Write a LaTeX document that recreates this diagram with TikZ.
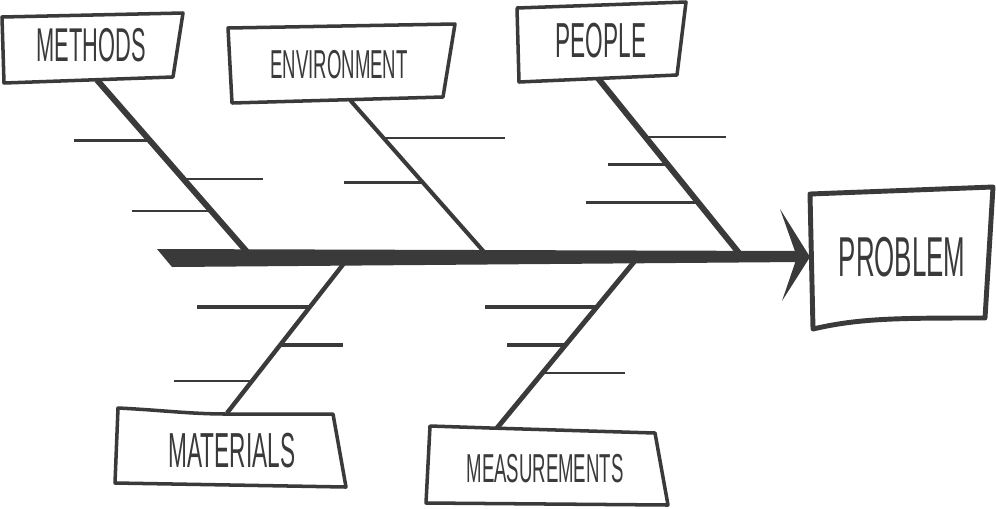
\documentclass[tikz,border=0pt]{standalone}
\usepackage{fontspec}
\newfontfamily\handfont[FakeStretch=0.46]{Liberation Sans}
\usetikzlibrary{calc}
\definecolor{ink}{RGB}{58,58,58}

\begin{document}
\begin{tikzpicture}[
	x=0.02cm, y=-0.02cm,
	card/.style={draw=ink, line width=2pt, line join=round, fill=white},
	label/.style={text=ink, inner sep=0pt},
	bone/.style={draw=ink, line cap=butt},
	rib/.style={draw=ink, line cap=butt},
]
	\useasboundingbox (0, 0) rectangle (996, 508);

	% Points where the bones leave the cards and meet the spine
	\coordinate (methods-foot) at (97, 80);
	\coordinate (environment-foot) at (350, 100);
	\coordinate (people-foot) at (597, 77);
	\coordinate (materials-foot) at (227, 413);
	\coordinate (measurements-foot) at (497, 428);
	\coordinate (methods-root) at (248, 253);
	\coordinate (environment-root) at (485, 253);
	\coordinate (people-root) at (739, 253);
	\coordinate (materials-root) at (345, 262);
	\coordinate (measurements-root) at (634, 262);

	% Bones
	\draw[bone, line width=3.4pt] (methods-foot) -- (methods-root);
	\draw[bone, line width=2.3pt] (environment-foot) -- (environment-root);
	\draw[bone, line width=3.4pt] (people-foot) -- (people-root);
	\draw[bone, line width=2.5pt] (materials-root) -- (materials-foot);
	\draw[bone, line width=2.8pt] (measurements-root) -- (measurements-foot);

	% Ribs: y / from / to / width
	\foreach \y/\xa/\xb/\w in {140/74/149/1.7, 179/182/263/1.1, 211/132/210/1.1,
			138/383/505/0.85, 182/344/422/1.7,
			137/646/726/1.0, 164/608/668/1.7, 202/586/697/1.7,
			307/197/310/2.3, 345/280/343/2.3, 381/174/252/1.1,
			307/485/597/2.3, 345/507/566/2.3, 373/543/625/1.1} {
		\draw[rib, line width=\w pt] (\xa, \y) -- (\xb, \y);
	}

	% Spine with its arrow head
	\coordinate (tail) at (157, 249);
	\coordinate (head) at (810, 257);
	\fill[ink] (tail) -- (800, 251) -- (800, 262) -- (172, 267) -- cycle;
	\fill[ink] (780, 209) -- (head) -- (782, 301) -- (797, 257) -- cycle;

	% Cards
	\draw[card] (2, 17) -- (183, 13) -- (173, 77) -- (4, 83) -- cycle;
	\draw[card] (228, 28) -- (455, 24) -- (443, 97) -- (232, 103) -- cycle;
	\draw[card] (517, 8) -- (686, 2) -- (677, 75) -- (519, 82) -- cycle;
	\draw[card] (118, 408) .. controls (160, 410) and (190, 414) .. (227, 414)
		-- (333, 414) -- (346, 487) -- (115, 483) -- cycle;
	\draw[card] (430, 426) -- (490, 428) -- (655, 433) -- (668, 505) -- (426, 503) -- cycle;
	\draw[card, line width=2.8pt] (810, 194) -- (993, 187) -- (985, 318)
		.. controls (900, 318) and (860, 318) .. (813, 329) -- cycle;

	% Labels
	\node[label, font={\handfont\fontsize{27}{27}\selectfont}] (methods) at (91, 45) {METHODS};
	\node[label, font={\handfont\fontsize{23}{23}\selectfont}] (environment) at (339, 65) {ENVIRONMENT};
	\node[label, font={\handfont\fontsize{28}{28}\selectfont}] (people) at (601, 41) {PEOPLE};
	\node[label, font={\handfont\fontsize{28}{28}\selectfont}] (materials) at (232, 451) {MATERIALS};
	\node[label, font={\handfont\fontsize{23}{23}\selectfont}] (measurements) at (545, 469) {MEASUREMENTS};
	\node[label, font={\handfont\fontsize{32}{32}\selectfont}] (problem) at (902, 257) {PROBLEM};
\end{tikzpicture}
\end{document}
